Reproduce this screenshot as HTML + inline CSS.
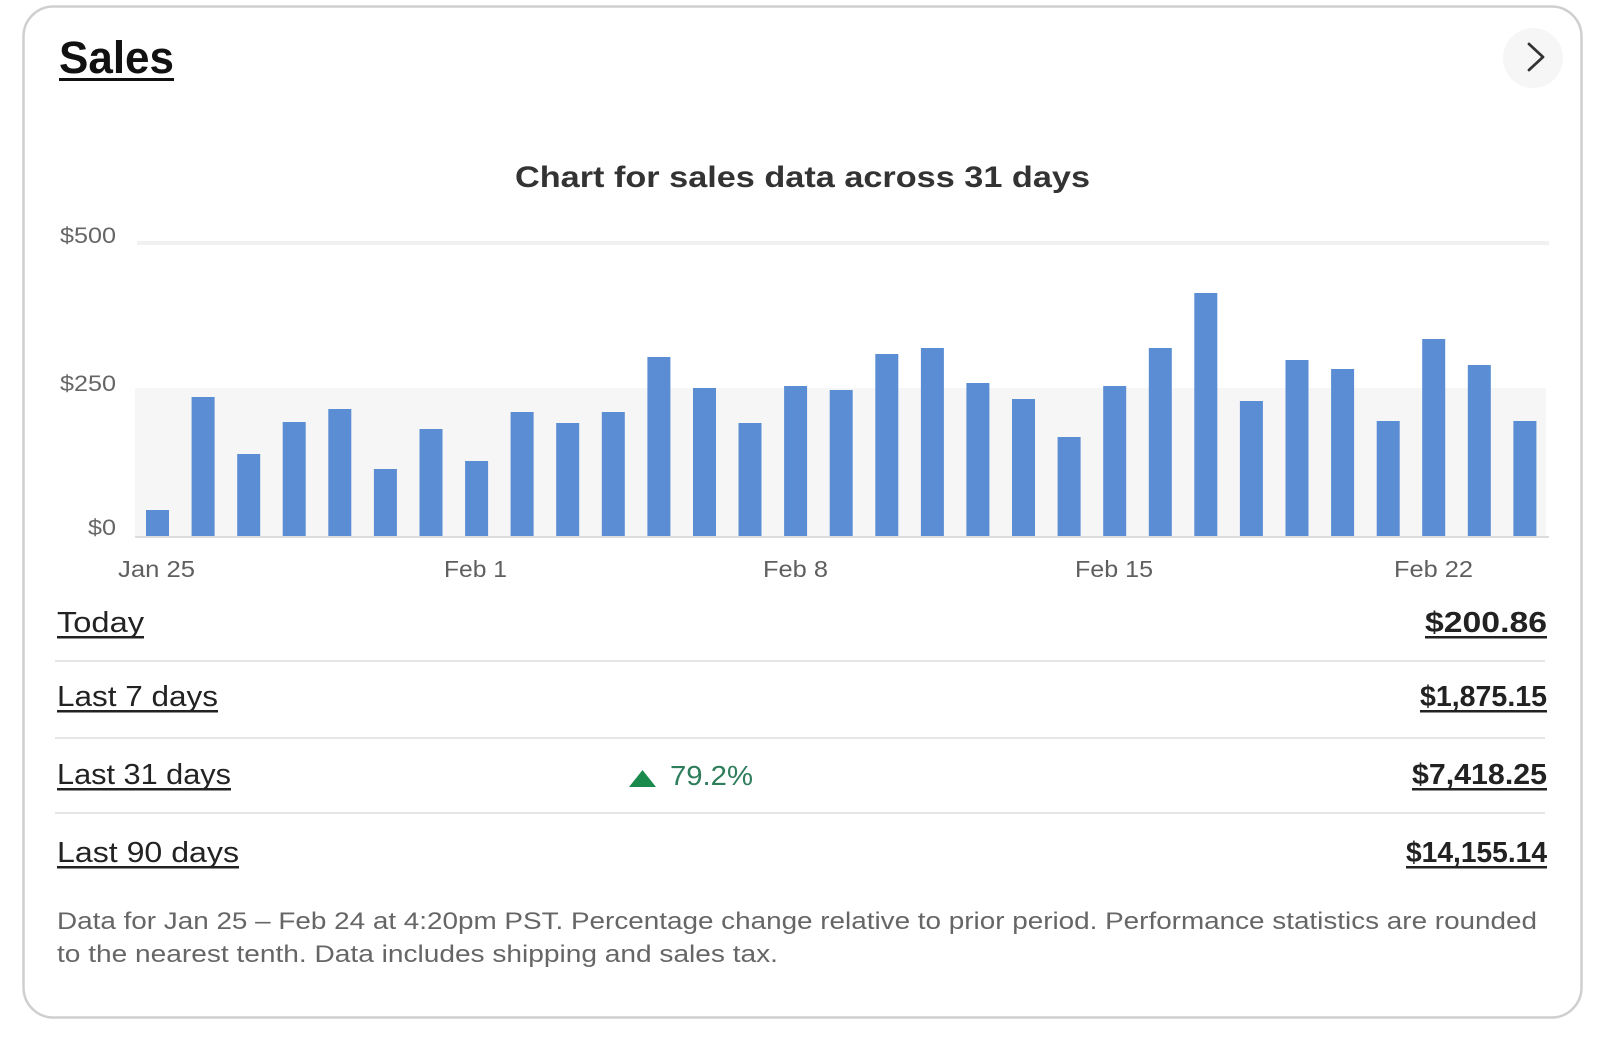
<!DOCTYPE html>
<html><head><meta charset="utf-8"><style>
html,body{margin:0;padding:0;background:#fff;}
svg{display:block;}
text{font-family:"Liberation Sans",Arial,sans-serif;}
</style></head><body>
<svg width="1600" height="1042" viewBox="0 0 1600 1042" xmlns="http://www.w3.org/2000/svg">
<rect x="0" y="0" width="1600" height="1042" fill="#fff"/>
<rect x="23.5" y="6.5" width="1558" height="1011" rx="30" ry="30" fill="#fff" stroke="#cfcfcf" stroke-width="2.5"/>

<!-- Title -->
<text x="59" y="73" font-size="45" font-weight="bold" fill="#111" textLength="115" lengthAdjust="spacingAndGlyphs">Sales</text>
<rect x="59" y="78" width="115" height="3" fill="#111"/>

<!-- chevron button -->
<circle cx="1533" cy="58" r="30" fill="#f6f6f6"/>
<polyline points="1529,44 1543,57 1529,70" fill="none" stroke="#333" stroke-width="2.8" stroke-linecap="round" stroke-linejoin="round"/>

<!-- chart title -->
<text x="515" y="187" font-size="30" font-weight="bold" fill="#333" textLength="575" lengthAdjust="spacingAndGlyphs">Chart for sales data across 31 days</text>

<!-- axes -->
<text x="116" y="243" font-size="22" fill="#666" text-anchor="end" textLength="56" lengthAdjust="spacingAndGlyphs">$500</text>
<text x="116" y="391" font-size="22" fill="#666" text-anchor="end" textLength="56" lengthAdjust="spacingAndGlyphs">$250</text>
<text x="116" y="535" font-size="22" fill="#666" text-anchor="end" textLength="28" lengthAdjust="spacingAndGlyphs">$0</text>

<rect x="137" y="241" width="1412" height="4" fill="#f1f1f1"/>
<rect x="135" y="388" width="1411" height="148" fill="#f6f6f6"/>
<line x1="135" y1="537" x2="1549" y2="537" stroke="#dcdcdc" stroke-width="2"/>

<g fill="#5a8dd3">
<rect x="146.0" y="510" width="23" height="26"/>
<rect x="191.6" y="397" width="23" height="139"/>
<rect x="237.2" y="454" width="23" height="82"/>
<rect x="282.7" y="422" width="23" height="114"/>
<rect x="328.3" y="409" width="23" height="127"/>
<rect x="373.9" y="469" width="23" height="67"/>
<rect x="419.5" y="429" width="23" height="107"/>
<rect x="465.1" y="461" width="23" height="75"/>
<rect x="510.6" y="412" width="23" height="124"/>
<rect x="556.2" y="423" width="23" height="113"/>
<rect x="601.8" y="412" width="23" height="124"/>
<rect x="647.4" y="357" width="23" height="179"/>
<rect x="693.0" y="388" width="23" height="148"/>
<rect x="738.5" y="423" width="23" height="113"/>
<rect x="784.1" y="386" width="23" height="150"/>
<rect x="829.7" y="390" width="23" height="146"/>
<rect x="875.3" y="354" width="23" height="182"/>
<rect x="920.9" y="348" width="23" height="188"/>
<rect x="966.4" y="383" width="23" height="153"/>
<rect x="1012.0" y="399" width="23" height="137"/>
<rect x="1057.6" y="437" width="23" height="99"/>
<rect x="1103.2" y="386" width="23" height="150"/>
<rect x="1148.8" y="348" width="23" height="188"/>
<rect x="1194.3" y="293" width="23" height="243"/>
<rect x="1239.9" y="401" width="23" height="135"/>
<rect x="1285.5" y="360" width="23" height="176"/>
<rect x="1331.1" y="369" width="23" height="167"/>
<rect x="1376.7" y="421" width="23" height="115"/>
<rect x="1422.2" y="339" width="23" height="197"/>
<rect x="1467.8" y="365" width="23" height="171"/>
<rect x="1513.4" y="421" width="23" height="115"/>
</g>

<g font-size="23" fill="#5f5f5f">
<text x="118" y="577" textLength="77" lengthAdjust="spacingAndGlyphs">Jan 25</text>
<text x="444" y="577" textLength="63" lengthAdjust="spacingAndGlyphs">Feb 1</text>
<text x="763" y="577" textLength="65" lengthAdjust="spacingAndGlyphs">Feb 8</text>
<text x="1075" y="577" textLength="78" lengthAdjust="spacingAndGlyphs">Feb 15</text>
<text x="1394" y="577" textLength="79" lengthAdjust="spacingAndGlyphs">Feb 22</text>
</g>

<!-- rows -->
<g font-size="29" fill="#222">
<text x="57" y="632" textLength="87" lengthAdjust="spacingAndGlyphs">Today</text>
<text x="57" y="706" textLength="161" lengthAdjust="spacingAndGlyphs">Last 7 days</text>
<text x="57" y="784" textLength="174" lengthAdjust="spacingAndGlyphs">Last 31 days</text>
<text x="57" y="862" textLength="182" lengthAdjust="spacingAndGlyphs">Last 90 days</text>
</g>
<g fill="#222">
<rect x="57" y="636" width="87" height="2.5"/>
<rect x="57" y="710" width="161" height="2.5"/>
<rect x="57" y="788" width="174" height="2.5"/>
<rect x="57" y="866" width="182" height="2.5"/>
</g>

<g font-size="29" font-weight="bold" fill="#222">
<text x="1425" y="632" textLength="122" lengthAdjust="spacingAndGlyphs">$200.86</text>
<text x="1420" y="706" textLength="127" lengthAdjust="spacingAndGlyphs">$1,875.15</text>
<text x="1412" y="784" textLength="135" lengthAdjust="spacingAndGlyphs">$7,418.25</text>
<text x="1406" y="862" textLength="141" lengthAdjust="spacingAndGlyphs">$14,155.14</text>
</g>
<g fill="#222">
<rect x="1425" y="636" width="122" height="2.5"/>
<rect x="1420" y="710" width="127" height="2.5"/>
<rect x="1412" y="788" width="135" height="2.5"/>
<rect x="1406" y="866" width="141" height="2.5"/>
</g>

<g stroke="#e6e6e6" stroke-width="2">
<line x1="55" y1="661" x2="1545" y2="661"/>
<line x1="55" y1="738" x2="1545" y2="738"/>
<line x1="55" y1="813" x2="1545" y2="813"/>
</g>

<polygon points="629,787 656,787 642.5,770" fill="#1a8a4c"/>
<text x="670" y="785" font-size="28" fill="#2e7d5b" textLength="83" lengthAdjust="spacingAndGlyphs">79.2%</text>

<!-- footnote -->
<g font-size="24" fill="#666">
<text x="57" y="929" textLength="1480" lengthAdjust="spacingAndGlyphs">Data for Jan 25 – Feb 24 at 4:20pm PST. Percentage change relative to prior period. Performance statistics are rounded</text>
<text x="57" y="962" textLength="721" lengthAdjust="spacingAndGlyphs">to the nearest tenth. Data includes shipping and sales tax.</text>
</g>
</svg>
</body></html>
